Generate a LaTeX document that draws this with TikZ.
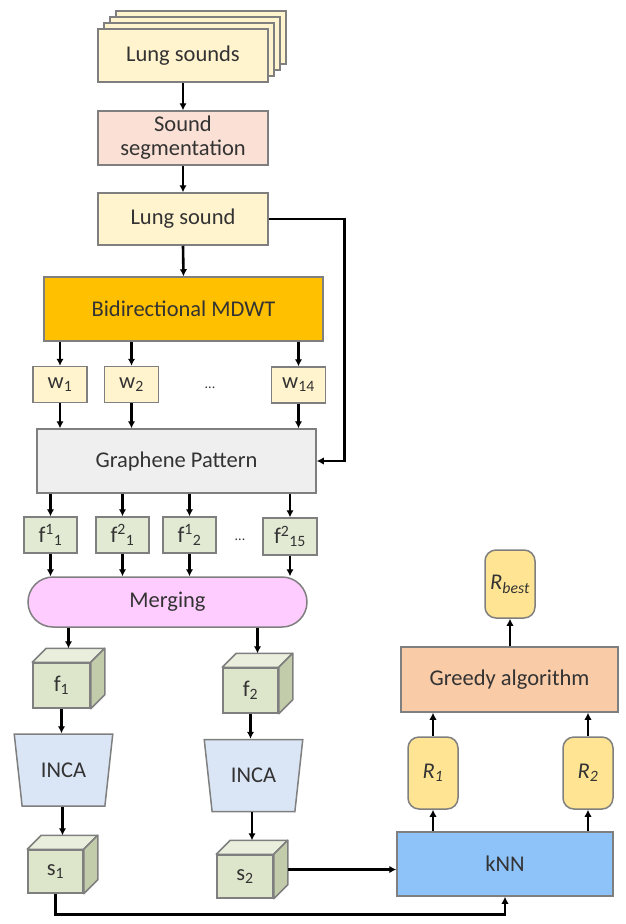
\documentclass[tikz,border=0pt]{standalone}
\usepackage{fontspec}
\setmainfont{Carlito}
\usetikzlibrary{arrows.meta,shapes.geometric}

\definecolor{edgegray}{HTML}{7F7F7F}
\definecolor{inkgray}{HTML}{333333}
\definecolor{paleyellow}{HTML}{FFF4CE}
\definecolor{peach}{HTML}{FBE0D6}
\definecolor{amber}{HTML}{FFC000}
\definecolor{lightgray}{HTML}{EFEFEF}
\definecolor{sage}{HTML}{E2EAD4}
\definecolor{pinkish}{HTML}{FFCCFF}
\definecolor{cubefront}{HTML}{DDE5CB}
\definecolor{cubetop}{HTML}{E9EEDD}
\definecolor{cubeside}{HTML}{C3CCAA}
\definecolor{incablue}{HTML}{DAE5F5}
\definecolor{skyblue}{HTML}{8EC3FA}
\definecolor{apricot}{HTML}{F9CBA7}
\definecolor{gold}{HTML}{FFE593}

\begin{document}
\begin{tikzpicture}[x=1pt,y=-1pt,font=\fontsize{22.5}{24}\selectfont,
  box/.style={draw=edgegray,line width=1.5pt,inner sep=2pt,align=center,text=inkgray},
  wbox/.style={box,fill=paleyellow,minimum width=54,minimum height=36},
  fbox/.style={box,fill=sage,minimum width=53,minimum height=36},
  cube/.style={box,fill=cubefront,minimum width=56,minimum height=44},
  inca/.style={box,fill=incablue,trapezium,trapezium stretches=true,
    trapezium left angle=76,trapezium right angle=76,shape border rotate=180,
    minimum width=99,minimum height=72},
  drum/.style={box,fill=gold,rounded corners=11pt,minimum width=50,font=\fontsize{22.5}{24}\selectfont\itshape},
  arr/.style={-{Latex[length=7pt,width=7.5pt]},line width=2.6pt},
  face/.style={draw=edgegray,line width=1.5pt,line join=round}]
\useasboundingbox (0,0) rectangle (625,924);

% stack behind lung sounds
\foreach \k in {3,2,1}
  \draw[box,fill=paleyellow] (98+6*\k,29-6*\k) rectangle ++(170,53);

\node[box,fill=paleyellow,minimum width=170,minimum height=53] (sounds) at (183,55.5) {Lung sounds};
\node[box,fill=peach,minimum width=170,minimum height=54] (seg) at (183,138) {Sound\\segmentation};
\node[box,fill=paleyellow,minimum width=170,minimum height=52] (lung) at (183,219) {Lung sound};
\node[box,fill=amber,minimum width=279,minimum height=64] (mdwt) at (183.5,309) {Bidirectional MDWT};

\node[wbox] (w1) at (60,384.5) {w\textsubscript{1}};
\node[wbox] (w2) at (131.5,384.5) {w\textsubscript{2}};
\node[wbox] (w14) at (298.5,385) {w\textsubscript{14}};
\node[font=\fontsize{14}{16}\selectfont,text=inkgray] (wdots) at (210,388) {...};

\node[box,fill=lightgray,minimum width=279,minimum height=64] (graph) at (176.5,461) {Graphene Pattern};

\node[fbox] (f11) at (50.5,535) {f\textsuperscript{1}\textsubscript{1}};
\node[fbox] (f21) at (122.5,535) {f\textsuperscript{2}\textsubscript{1}};
\node[fbox] (f12) at (189.5,535) {f\textsuperscript{1}\textsubscript{2}};
\node[fbox,minimum width=54,minimum height=37] (f215) at (290,536.5) {f\textsuperscript{2}\textsubscript{15}};
\node[font=\fontsize{14}{16}\selectfont,text=inkgray] (fdots) at (240,540) {...};

\node[box,fill=pinkish,rounded corners=25pt,minimum width=279,minimum height=50] (merge) at (167.5,602) {Merging};

% feature cubes
\node[cube,minimum width=57,minimum height=45] (f1) at (61.5,685.5) {f\textsubscript{1}};
\node[cube,minimum width=55,minimum height=45] (f2) at (250.5,690.5) {f\textsubscript{2}};
\node[cube,minimum width=55,minimum height=43] (s1) at (55.5,871.5) {s\textsubscript{1}};
\node[cube,minimum width=56,minimum height=43] (s2) at (245,876.5) {s\textsubscript{2}};
\foreach \c in {f1,f2,s1,s2} {
  \draw[face,fill=cubetop] (\c.north west) -- ++(14,-14) -- ([shift={(14,-14)}]\c.north east) -- (\c.north east) -- cycle;
  \draw[face,fill=cubeside] (\c.north east) -- ++(14,-14) -- ([shift={(14,-14)}]\c.south east) -- (\c.south east) -- cycle;
}
\coordinate (f1top) at ([xshift=7pt,yshift=14pt]f1.north);
\coordinate (f2top) at ([xshift=7pt,yshift=14pt]f2.north);
\coordinate (s1top) at ([xshift=7pt,yshift=14pt]s1.north);
\coordinate (s2top) at ([xshift=7pt,yshift=14pt]s2.north);
\coordinate (s2side) at ([xshift=14pt,yshift=7pt]s2.east);

\node[inca] (inca1) at (63.5,770) {INCA};
\node[inca] (inca2) at (253.5,775.5) {INCA};

\node[box,fill=skyblue,minimum width=216,minimum height=64] (knn) at (505,864) {kNN};
\node[drum,minimum height=72] (r1) at (433,773) {R\textsubscript{1}};
\node[drum,minimum height=72] (r2) at (588,773) {R\textsubscript{2}};
\node[box,fill=apricot,minimum width=217,minimum height=65] (greedy) at (509.5,679.5) {Greedy algorithm};
\node[drum,minimum height=68] (rbest) at (510,584) {R\textsubscript{best}};

% connectors
\draw[arr] (sounds.south) -- (seg.north);
\draw[arr] (seg.south) -- (lung.north);
\draw[arr] (lung.south) -- (mdwt.north);
\foreach \w in {w1,w2,w14} {
  \draw[arr] (\w |- mdwt.south) -- (\w.north);
  \draw[arr] (\w.south) -- (\w |- graph.north);
}
\draw[arr] (lung.east) -- ++(76,0) |- (graph.east);
\foreach \f in {f11,f21,f12,f215} {
  \draw[arr] (\f |- graph.south) -- (\f.north);
  \draw[arr] (\f.south) -- (\f |- merge.north);
}
\draw[arr] (f1top |- merge.south) -- (f1top);
\draw[arr] (f2top |- merge.south) -- (f2top);
\draw[arr] (f1.south) -- (f1.south |- inca1.north);
\draw[arr] (f2.south) -- (f2.south |- inca2.north);
\draw[arr] (s1top |- inca1.south) -- (s1top);
\draw[arr] (s2top |- inca2.south) -- (s2top);
\draw[arr] (s2side) -- (s2side -| knn.west);
\draw[arr] (s1.south) -- ++(0,21) -| (knn.south);
\draw[arr] (r1 |- knn.north) -- (r1.south);
\draw[arr] (r2 |- knn.north) -- (r2.south);
\draw[arr] (r1.north) -- (r1 |- greedy.south);
\draw[arr] (r2.north) -- (r2 |- greedy.south);
\draw[arr] (greedy.north -| rbest) -- (rbest.south);

\end{tikzpicture}
\end{document}
